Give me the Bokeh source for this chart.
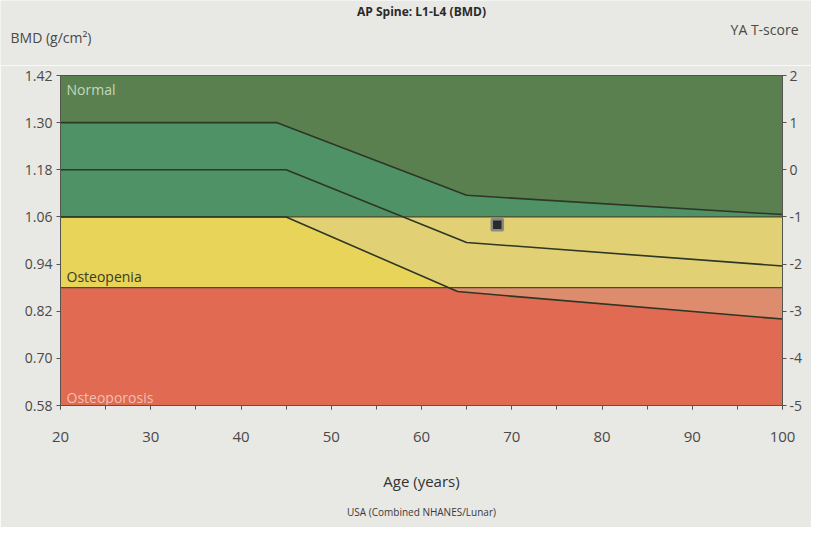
from bokeh.plotting import figure
from bokeh.layouts import column
from bokeh.models import Range1d, LinearAxis, FixedTicker
from bokeh.core.properties import value
from bokeh.embed import file_html
from bokeh.resources import INLINE

# ---- data ----
zone_names = ["Normal", "Osteopenia", "Osteoporosis"]
zone_bottom = [1.06, 0.88, 0.58]
zone_top = [1.42, 1.06, 0.88]

upper_age = [20, 44, 65, 100]
upper_bmd = [1.30, 1.30, 1.115, 1.066]
middle_age = [20, 45, 65, 100]
middle_bmd = [1.18, 1.18, 0.995, 0.935]
lower_age = [20, 45, 64, 100]
lower_bmd = [1.06, 1.06, 0.87, 0.80]

patient_age = [68.4]
patient_bmd = [1.04]

bmd_ticks = [0.58, 0.70, 0.82, 0.94, 1.06, 1.18, 1.30, 1.42]
t_ticks = [-5, -4, -3, -2, -1, 0, 1, 2]
age_ticks = [20, 30, 40, 50, 60, 70, 80, 90, 100]

title_text = "AP Spine: L1-L4 (BMD)"
left_label = "BMD (g/cm²)"
right_label = "YA T-score"
x_label = "Age (years)"
footnote = "USA (Combined NHANES/Lunar)"

FONT = "Open Sans"
BG = "#e8e8e5"
W, HEAD_H, MAIN_H = 811, 65, 462
BL, BR, BT = 60, 29, 10

def clip_below(xs, ys, c):
    ox, oy = [], []
    for i in range(len(xs)):
        if i > 0 and (ys[i - 1] - c) * (ys[i] - c) < 0:
            t = (c - ys[i - 1]) / (ys[i] - ys[i - 1])
            ox.append(xs[i - 1] + t * (xs[i] - xs[i - 1]))
            oy.append(c)
        ox.append(xs[i])
        oy.append(min(ys[i], c))
    return ox, oy

x0, x1 = age_ticks[0], age_ticks[-1]

p = figure(width=W, height=MAIN_H, output_backend="svg", toolbar_location=None,
           x_range=Range1d(x0, x1), y_range=Range1d(zone_bottom[2], zone_top[0]),
           min_border_left=BL, min_border_right=BR, min_border_top=BT,
           min_border_bottom=122)
p.frame_align = False
p.background_fill_color = BG
p.border_fill_color = BG
p.outline_line_color = "#3a3a30"
p.grid.visible = False
p.extra_y_ranges = {"t": Range1d(t_ticks[0], t_ticks[-1])}

# zone fills (band colours first, then outside-band colours)
p.quad(left=x0, right=x1, bottom=zone_bottom[0], top=zone_top[0], fill_color="#4f9266", line_color=None)
p.varea(x=upper_age, y1=upper_bmd, y2=[zone_top[0]] * len(upper_age), fill_color="#5a8050")
p.quad(left=x0, right=x1, bottom=zone_bottom[1], top=zone_top[1], fill_color="#e2d074", line_color=None)
p.quad(left=x0, right=x1, bottom=zone_bottom[2], top=zone_top[2], fill_color="#de8c6e", line_color=None)
p.varea(x=lower_age, y1=[zone_bottom[2]] * len(lower_age), y2=lower_bmd, fill_color="#e8d458")
cx, cy = clip_below(lower_age, lower_bmd, zone_top[2])
p.varea(x=cx, y1=[zone_bottom[2]] * len(cx), y2=cy, fill_color="#e06a52")

# zone boundary lines
for b in [zone_bottom[0], zone_bottom[1]]:
    p.line(x=[x0, x1], y=[b, b], line_color="#4a4a30", line_width=1.2)

# reference curves
for ax, ay in [(upper_age, upper_bmd), (middle_age, middle_bmd), (lower_age, lower_bmd)]:
    p.line(x=ax, y=ay, line_color="#2e3626", line_width=1.6)

# patient point
p.scatter(x=patient_age, y=patient_bmd, marker="square", size=11,
          fill_color="#2a2a2a", line_color="#8a8a80", line_width=2.5)

# zone labels
p.text(x=[x0], y=[zone_top[0]], text=[zone_names[0]], x_offset=6, y_offset=4,
       text_baseline="top", text_font=value(FONT), text_font_size="14px", text_color="#c4d8bc")
p.text(x=[x0], y=[zone_bottom[1]], text=[zone_names[1]], x_offset=6, y_offset=-2,
       text_baseline="bottom", text_font=value(FONT), text_font_size="14px", text_color="#3a3a22")
p.text(x=[x0], y=[zone_bottom[2]], text=[zone_names[2]], x_offset=6, y_offset=1,
       text_baseline="bottom", text_font=value(FONT), text_font_size="14px", text_color="#f2c0b0")

# axes styling
for ax in [p.xaxis[0], p.yaxis[0]]:
    ax.axis_line_color = "#555550"
    ax.major_tick_line_color = "#555550"
    ax.minor_tick_line_color = "#555550"
    ax.major_label_text_font = FONT
    ax.major_label_text_font_size = "14px"
    ax.major_label_text_color = "#4a4a48"

p.xaxis.ticker = FixedTicker(ticks=age_ticks, minor_ticks=list(range(x0, x1 + 1, 5)))
p.xaxis.major_tick_out = 4
p.xaxis.major_tick_in = 0
p.xaxis.minor_tick_out = 4
p.xaxis.minor_tick_in = 0
p.xaxis.major_label_standoff = 22
p.xaxis.major_label_text_font_size = "15px"
p.xaxis.axis_label = x_label
p.xaxis.axis_label_text_font = FONT
p.xaxis.axis_label_text_font_size = "15px"
p.xaxis.axis_label_text_font_style = "normal"
p.xaxis.axis_label_text_color = "#333330"
p.xaxis.axis_label_standoff = 26

p.yaxis.ticker = FixedTicker(ticks=bmd_ticks)
p.yaxis.major_label_overrides = {t: f"{t:.2f}" for t in bmd_ticks}
p.yaxis.major_tick_out = 4
p.yaxis.major_tick_in = 0
p.yaxis.minor_tick_line_color = None
p.yaxis.major_label_standoff = 4

rax = LinearAxis(y_range_name="t", ticker=FixedTicker(ticks=t_ticks))
rax.major_label_overrides = {t: str(t) for t in t_ticks}
rax.axis_line_color = "#555550"
rax.major_tick_line_color = "#555550"
rax.minor_tick_line_color = None
rax.major_tick_out = 4
rax.major_tick_in = 0
rax.major_label_standoff = 3
rax.major_label_text_font = FONT
rax.major_label_text_font_size = "14px"
rax.major_label_text_color = "#4a4a48"
p.add_layout(rax, "right")

# footnote below the axis
p.title.text = footnote
p.title_location = "below"
p.title.align = "center"
p.title.text_font = FONT
p.title.text_font_size = "10px"
p.title.text_font_style = "normal"
p.title.text_color = "#3a3a38"
p.title.standoff = 18

# header strip (full-width frame) holding the chart title and the two axis captions
yr_per_px = (x1 - x0) / (W - BL - BR)
head = figure(width=W, height=HEAD_H, output_backend="svg", toolbar_location=None,
              x_range=Range1d(x0 - BL * yr_per_px, x1 + BR * yr_per_px),
              y_range=Range1d(0, 1), min_border=0)
head.frame_align = False
head.axis.visible = False
head.grid.visible = False
head.outline_line_color = None
head.background_fill_color = BG
head.border_fill_color = BG
mid = (x0 + x1) / 2
head.text(x=[mid], y=[1], text=[title_text], y_offset=2, text_align="center",
          text_baseline="top", text_font=value(FONT), text_font_size="12px",
          text_font_style="bold", text_color="#2a2a28")
head.text(x=[x0], y=[0], text=[left_label], x_offset=-50, y_offset=-28,
          text_align="left", text_baseline="middle", text_font=value(FONT),
          text_font_size="14px", text_color="#4a4a48")
head.text(x=[x1], y=[0], text=[right_label], x_offset=16, y_offset=-36,
          text_align="right", text_baseline="middle", text_font=value(FONT),
          text_font_size="14px", text_color="#4a4a48")

layout = column(head, p, spacing=0)
open("out.html", "w").write(file_html(layout, INLINE))
